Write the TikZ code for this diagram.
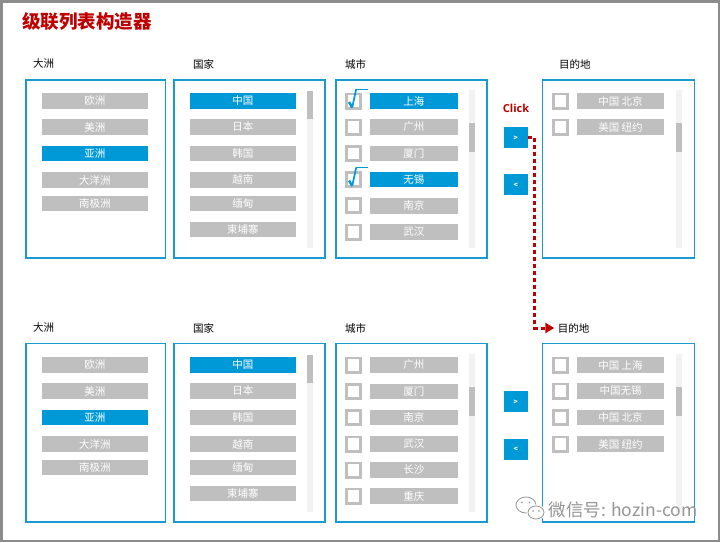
\documentclass[tikz,border=0pt]{standalone}
\usepackage{fontspec}
\setmainfont{Noto Sans CJK SC}
\newfontfamily\clickfont{Open Sans}
\usetikzlibrary{arrows.meta}
\definecolor{selblue}{HTML}{0099D8}
\definecolor{panelblue}{HTML}{1A9AD2}
\definecolor{itemgray}{HTML}{BFBFBF}
\definecolor{track}{HTML}{F2F2F2}
\definecolor{titlered}{HTML}{C00000}
\definecolor{framegray}{HTML}{8C8C8C}
\definecolor{wmgray}{HTML}{959595}
\tikzset{
  frame/.style={draw=framegray, line width=2.5pt},
  panel/.style={draw=panelblue, line width=1.8pt},
  item/.style={fill=itemgray, text=white, inner sep=0pt, minimum height=15.6pt,
    font=\fontsize{10.5}{10.5}\selectfont},
  sel/.style={item, fill=selblue},
  wide/.style={minimum width=105.7pt},
  narrow/.style={minimum width=87.7pt},
  chk/.style={draw=itemgray, line width=2.8pt, fill=white, minimum size=14.2pt, inner sep=0pt},
  lab/.style={anchor=west, inner sep=0pt, text=black, font=\fontsize{10.5}{10.5}\selectfont},
  btn/.style={fill=selblue, text=white, minimum width=23.7pt, minimum height=21pt, inner sep=0pt,
    font=\fontsize{7}{7}\selectfont\bfseries},
  dots/.style={draw=titlered, line width=3pt, dash pattern=on 4pt off 3pt,
    -{Triangle[length=9pt,width=10pt]}},
  tick/.pic={
    \draw[selblue, line width=2.4pt] (-4.7,1) -- (-1.5,6.5);
    \draw[selblue, line width=1.7pt] (-1.5,6.5) -- (2.5,-12);
    \draw[selblue, line width=0.9pt] (2.5,-12) -- (14,-12);
  },
  wm/.style={inner sep=0pt, anchor=west, font=\fontsize{17.5}{17.5}\selectfont}
}
\begin{document}
\begin{tikzpicture}[x=1pt,y=-1pt]
\useasboundingbox (0,0) rectangle (720,542);
\fill[white] (0,0) rectangle (720,542);
\draw[frame] (1.25,1.25) rectangle (718.75,540.75);

% title
\node[anchor=west, inner sep=0pt, text=titlered, font=\fontsize{18.5}{18.5}\selectfont\bfseries] (title) at (22,21) {级联列表构造器};

% ================= TOP =================
\node[lab] (l1) at (33,64) {大洲};
\node[lab] (l2) at (193,64) {国家};
\node[lab] (l3) at (345,64) {城市};
\node[lab] (l4) at (559,64) {目的地};

\draw[panel] (26,80) rectangle (165.5,258);
\draw[panel] (174,80) rectangle (325,258);
\draw[panel] (336,80) rectangle (487,258);
\draw[panel] (542.5,80) rectangle (694.5,258);

% scrollbars
\fill[track] (306.7,90.7) rectangle (313.3,248);
\fill[itemgray] (306.7,90.7) rectangle (313.3,119.3);
\fill[track] (468.7,90) rectangle (475.3,247.7);
\fill[itemgray] (468.7,123.3) rectangle (475.3,151.7);
\fill[track] (676,90) rectangle (682.3,247.7);
\fill[itemgray] (676,123.3) rectangle (682.3,151.7);

\foreach \t/\y/\s [count=\i] in {欧洲/101/item, 美洲/127/item, 亚洲/153.5/sel, 大洋洲/180/item, 南极洲/203.5/item}
  {\node[\s, wide] (ta\i) at (94.8,\y) {\t};}
\foreach \t/\y/\s [count=\i] in {中国/101/sel, 日本/127/item, 韩国/153.5/item, 越南/180/item, 缅甸/203.5/item, 柬埔寨/229.5/item}
  {\node[\s, wide] (tb\i) at (242.8,\y) {\t};}
\foreach \t/\y/\s [count=\i] in {上海/101/sel, 广州/127/item, 厦门/153.5/item, 无锡/179.5/sel, 南京/205.7/item, 武汉/232/item}
  {\node[chk] (tcc\i) at (353.7,\y) {};
   \node[\s, narrow] (tc\i) at (413.8,\y) {\t};}
\pic at (tcc1) {tick};
\pic at (tcc4) {tick};
\foreach \t/\y [count=\i] in {中国 北京/101, 美国 纽约/127}
  {\node[chk] (tdc\i) at (560.7,\y) {};
   \node[item, narrow] (td\i) at (620.5,\y) {\t};}

\node[anchor=center, inner sep=0pt, text=titlered, font=\fontsize{11}{11}\selectfont\clickfont\bfseries] (click) at (516,108) {Click};
\node[btn] (r1) at (515.8,137.8) {>};
\node[btn] (q1) at (515.8,184.8) {<};

% ================= BOTTOM =================
\node[lab] (m1) at (33,328) {大洲};
\node[lab] (m2) at (193,328) {国家};
\node[lab] (m3) at (345,328) {城市};
\node[lab] (m4) at (557.7,328) {目的地};

\draw[panel] (26,343.5) rectangle (165.5,522.3);
\draw[panel] (174,343.5) rectangle (325,522.3);
\draw[panel] (336,343.5) rectangle (487,522.3);
\draw[panel] (542.5,343.5) rectangle (694.5,522.3);

\fill[track] (306.7,355) rectangle (313.3,511.7);
\fill[itemgray] (306.7,355) rectangle (313.3,383.3);
\fill[track] (468.7,354) rectangle (475.3,511.7);
\fill[itemgray] (468.7,387.3) rectangle (475.3,415.7);
\fill[track] (676,354) rectangle (682.3,511.7);
\fill[itemgray] (676,387.3) rectangle (682.3,415.7);

\foreach \t/\y/\s [count=\i] in {欧洲/365/item, 美洲/391/item, 亚洲/417.5/sel, 大洋洲/444/item, 南极洲/467.5/item}
  {\node[\s, wide] (ba\i) at (94.8,\y) {\t};}
\foreach \t/\y/\s [count=\i] in {中国/365/sel, 日本/391/item, 韩国/417.5/item, 越南/444/item, 缅甸/467.5/item, 柬埔寨/493.5/item}
  {\node[\s, wide] (bb\i) at (242.8,\y) {\t};}
\foreach \t/\y [count=\i] in {广州/365, 厦门/391.3, 南京/417.5, 武汉/444, 长沙/470, 重庆/496}
  {\node[chk] (bcc\i) at (353.7,\y) {};
   \node[item, narrow] (bc\i) at (413.8,\y) {\t};}
\foreach \t/\y [count=\i] in {中国 上海/365, 中国无锡/391, 中国 北京/417.5, 美国 纽约/444}
  {\node[chk] (bdc\i) at (560.7,\y) {};
   \node[item, narrow] (bd\i) at (620.5,\y) {\t};}

\node[btn] (r2) at (515.8,401.8) {>};
\node[btn] (q2) at (515.8,449) {<};

% click connector
\coordinate (k1) at (534.5,137.8);
\draw[dots, shorten >=3.4pt] (r1.east) -- (k1) |- (m4.west);

% watermark
\node[wm, text=wmgray] (wmt) at (548.3,510) {微信号: hozin-com};
\draw[white, line width=3pt] (526,505) ellipse (10 and 8);
\draw[wmgray, line width=0.8pt, fill=white] (526,505) ellipse (10 and 8);
\draw[white, line width=3pt] (536,512.5) ellipse (8 and 6.5);
\draw[wmgray, line width=0.8pt, fill=white] (536,512.5) ellipse (8 and 6.5);
\fill[wmgray] (522,502.5) circle (0.9) (529.5,502.5) circle (0.9) (533,511) circle (0.8) (539,511) circle (0.8);
\end{tikzpicture}
\end{document}
